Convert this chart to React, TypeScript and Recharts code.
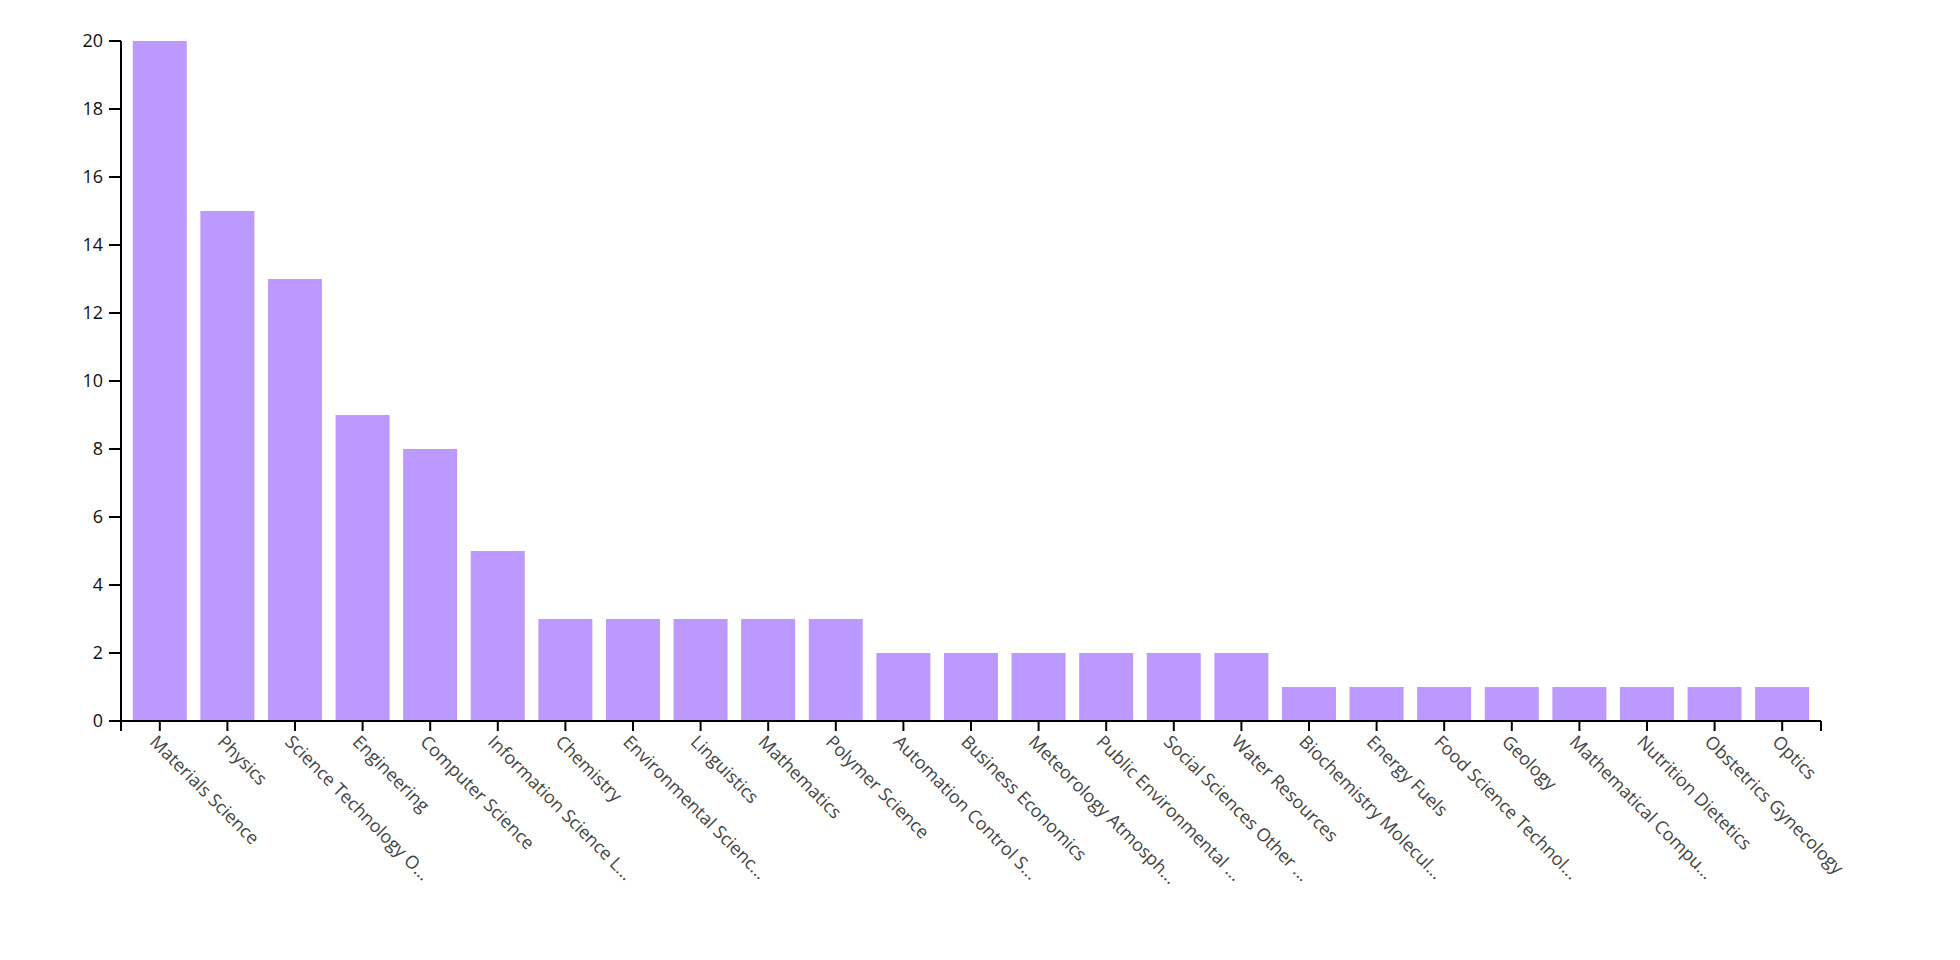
import React from "react";
import * as Recharts from "recharts";
import { BarChart, Bar, XAxis, YAxis } from "recharts";

const categories = [
  "Materials Science",
  "Physics",
  "Science Technology O...",
  "Engineering",
  "Computer Science",
  "Information Science L...",
  "Chemistry",
  "Environmental Scienc...",
  "Linguistics",
  "Mathematics",
  "Polymer Science",
  "Automation Control S...",
  "Business Economics",
  "Meteorology Atmosph...",
  "Public Environmental ...",
  "Social Sciences Other ...",
  "Water Resources",
  "Biochemistry Molecul...",
  "Energy Fuels",
  "Food Science Technol...",
  "Geology",
  "Mathematical Compu...",
  "Nutrition Dietetics",
  "Obstetrics Gynecology",
  "Optics",
];

const counts = [20, 15, 13, 9, 8, 5, 3, 3, 3, 3, 3, 2, 2, 2, 2, 2, 2, 1, 1, 1, 1, 1, 1, 1, 1];

const yTicks = [0, 2, 4, 6, 8, 10, 12, 14, 16, 18, 20];

const data = categories.map((name, i) => ({ name, count: counts[i] }));

const FONT = "'Open Sans', 'Noto Sans', sans-serif";

const usePlot = (Recharts as any).usePlotArea || (Recharts as any).useOffset || (() => null);

function XTick({ x, y, payload }: any) {
  return (
    <g transform={`translate(${x - 11},${y + 10}) rotate(45)`}>
      <text x={0} y={0} textAnchor="start" fill="#444" fontSize={18} fontFamily={FONT}>
        {payload.value}
      </text>
    </g>
  );
}

// the two end ticks hanging under the x axis line
function OuterTicks() {
  const area: any = usePlot();
  if (!area) return null;
  const left = area.x ?? area.left;
  const top = area.y ?? area.top;
  const w = area.width;
  const h = area.height;
  if (left == null || w == null) return null;
  const yb = top + h;
  return (
    <g>
      <line x1={left} x2={left} y1={yb} y2={yb + 10} stroke="#000" strokeWidth={2} />
      <line x1={left + w} x2={left + w} y1={yb} y2={yb + 10} stroke="#000" strokeWidth={2} />
    </g>
  );
}

export default function App() {
  return (
    <BarChart
      width={1944}
      height={944}
      data={data}
      margin={{ top: 33, right: 131, bottom: 0, left: 0 }}
    >
      <XAxis
        dataKey="name"
        interval={0}
        height={231}
        padding={{ left: 5, right: 5 }}
        tickSize={10}
        axisLine={{ stroke: "#000", strokeWidth: 2 }}
        tickLine={{ stroke: "#000", strokeWidth: 2 }}
        tick={<XTick />}
      />
      <YAxis
        width={113}
        domain={[0, 20]}
        ticks={yTicks}
        interval={0}
        tickSize={12}
        tickMargin={6}
        axisLine={{ stroke: "#000", strokeWidth: 2 }}
        tickLine={{ stroke: "#000", strokeWidth: 2 }}
        tick={{ fill: "#111", fontSize: 18, fontFamily: FONT }}
      />
      <Bar dataKey="count" fill="#bb99ff" isAnimationActive={false} />
      <OuterTicks />
    </BarChart>
  );
}
